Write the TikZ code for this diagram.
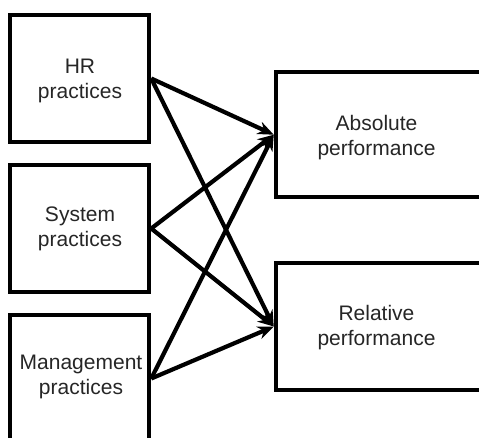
\documentclass[tikz,border=0pt]{standalone}
\usepackage{fontspec}
\setmainfont{Liberation Sans}
\usetikzlibrary{arrows.meta}
\begin{document}
\begin{tikzpicture}[x=1pt,y=-1pt,
  box/.style={draw=black, line width=4.5pt, fill=white, inner sep=0pt,
              minimum width=#1, minimum height=127pt},
  lbl/.style={text=black!85, font=\fontsize{21}{25}\selectfont, align=center, inner sep=0pt},
  link/.style={line width=4.2pt, -{Stealth[length=16pt,width=13pt]}}]
\useasboundingbox (0,0) rectangle (479,437);
\clip (0,0) rectangle (479,437);

% practice areas (left column)
\node[box=139pt] (hr)  at (79.5,78.5)  {};
\node[box=139pt] (sys) at (79.5,228.5) {};
\node[box=139pt] (mgt) at (79.5,378.5) {};

% outcomes (right column, running past the right margin)
\node[box=208pt, minimum height=125pt] (abs) at (380,134.7) {};
\node[box=208pt, minimum height=127pt] (rel) at (380,326.5) {};

% labels
\node[lbl] (hrt)  at (80,81)     {HR\\practices};
\node[lbl] (syst) at (80,228.5)  {System\\practices};
\node[lbl] (mgtt) at (81,377)    {Management\\practices};
\node[lbl] (abst) at (376.5,137.5) {Absolute\\performance};
\node[lbl] (relt) at (376.5,327.5) {Relative\\performance};

% links from every practice area to both outcomes
\foreach \src in {hr,sys,mgt}{
  \draw[link] (\src.east) -- (abs.west);
  \draw[link] (\src.east) -- (rel.west);
}
\end{tikzpicture}
\end{document}
